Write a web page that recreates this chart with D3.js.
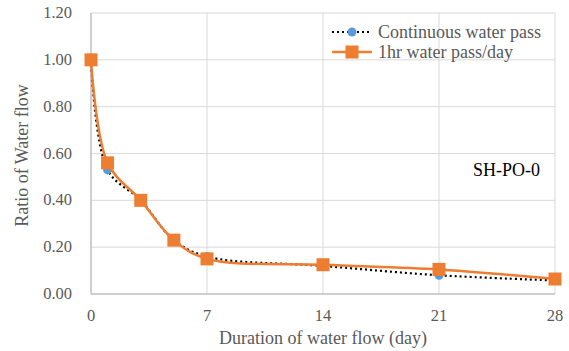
<!DOCTYPE html>
<html>
<head>
<meta charset="utf-8">
<script src="https://cdn.jsdelivr.net/npm/d3@7"></script>
<style>
  body { margin: 0; background: #fff; }
</style>
</head>
<body>
<svg id="chart" width="569" height="351"></svg>
<script>
// data
days = [0, 1, 3, 5, 7, 14, 21, 28];
continuous = [1.00, 0.53, 0.40, 0.23, 0.16, 0.12, 0.08, 0.058];
oneHour = [1.00, 0.56, 0.40, 0.23, 0.15, 0.125, 0.105, 0.064];
xTicks = [0, 7, 14, 21, 28];
yTicks = [0, 0.2, 0.4, 0.6, 0.8, 1.0, 1.2];

width = 569;
height = 351;
margin = {left: 91, right: 14, top: 13, bottom: 57};

font = "Liberation Serif";
blue = "#5b9bd5";
orange = "#ed7d31";
grid_color = "#d9d9d9";
label_color = "#595959";

const svg = d3.select("#chart");

const x = d3.scaleLinear().domain([0, 28]).range([margin.left, width - margin.right]);
const y = d3.scaleLinear().domain([0, 1.2]).range([height - margin.bottom, margin.top]);

// gridlines
svg.append("g")
  .selectAll("line")
  .data(yTicks.slice(1))
  .join("line")
    .attr("x1", x(0)).attr("x2", x(28))
    .attr("y1", d => y(d)).attr("y2", d => y(d))
    .attr("stroke", grid_color);

svg.append("g")
  .selectAll("line")
  .data(xTicks.slice(1))
  .join("line")
    .attr("x1", d => x(d)).attr("x2", d => x(d))
    .attr("y1", y(0)).attr("y2", y(1.2))
    .attr("stroke", grid_color);

// axes lines
svg.append("line")
  .attr("x1", x(0)).attr("x2", x(0)).attr("y1", y(0)).attr("y2", y(1.2))
  .attr("stroke", "#bfbfbf").attr("stroke-width", 1.5);
svg.append("line")
  .attr("x1", x(0)).attr("x2", x(28)).attr("y1", y(0)).attr("y2", y(0))
  .attr("stroke", "#bfbfbf").attr("stroke-width", 1.5);

// tick labels
svg.append("g")
  .selectAll("text")
  .data(yTicks)
  .join("text")
    .attr("x", 72)
    .attr("y", d => y(d) + 5)
    .attr("text-anchor", "end")
    .attr("font-family", font)
    .attr("font-size", 16.5)
    .attr("fill", label_color)
    .text(d => d3.format(".2f")(d));

svg.append("g")
  .selectAll("text")
  .data(xTicks)
  .join("text")
    .attr("x", d => x(d))
    .attr("y", 321)
    .attr("text-anchor", "middle")
    .attr("font-family", font)
    .attr("font-size", 16.5)
    .attr("fill", label_color)
    .text(d => d);

// axis titles
svg.append("text")
  .attr("x", (x(0) + x(28)) / 2)
  .attr("y", 344)
  .attr("text-anchor", "middle")
  .attr("font-family", font)
  .attr("font-size", 18)
  .attr("fill", label_color)
  .text("Duration of water flow (day)");

svg.append("text")
  .attr("transform", "translate(28," + (y(0.6) + 2) + ") rotate(-90)")
  .attr("text-anchor", "middle")
  .attr("font-family", font)
  .attr("font-size", 18)
  .attr("fill", label_color)
  .text("Ratio of Water flow");

// lines
var line = d3.line()
  .curve(d3.curveCatmullRom.alpha(0.5))
  .x(d => x(d[0]))
  .y(d => y(d[1]));

svg.append("path")
  .attr("d", line(days.map((d, i) => [d, continuous[i]])))
  .attr("fill", "none")
  .attr("stroke", "#000")
  .attr("stroke-width", 2.2)
  .attr("stroke-dasharray", "2,3");

svg.append("g")
  .selectAll("circle")
  .data(days.map((d, i) => [d, continuous[i]]))
  .join("circle")
    .attr("cx", d => x(d[0]))
    .attr("cy", d => y(d[1]))
    .attr("r", 4.5)
    .attr("fill", blue);

svg.append("path")
  .attr("d", line(days.map((d, i) => [d, oneHour[i]])))
  .attr("fill", "none")
  .attr("stroke", orange)
  .attr("stroke-width", 2.5);

svg.append("g")
  .selectAll("rect")
  .data(days.map((d, i) => [d, oneHour[i]]))
  .join("rect")
    .attr("x", d => x(d[0]) - 6.5)
    .attr("y", d => y(d[1]) - 6.5)
    .attr("width", 13)
    .attr("height", 13)
    .attr("fill", orange);

// legend
legend = [
  {label: "Continuous water pass", kind: "dot"},
  {label: "1hr water pass/day", kind: "square"}
];
const lg = svg.append("g")
  .selectAll("g")
  .data(legend)
  .join("g")
    .attr("transform", (d, i) => "translate(332," + (32 + i * 20) + ")");

lg.append("line")
  .attr("x1", 0).attr("x2", 40)
  .attr("stroke", d => d.kind == "dot" ? "#000" : orange)
  .attr("stroke-width", d => d.kind == "dot" ? 2.2 : 2.5)
  .attr("stroke-dasharray", d => d.kind == "dot" ? "2,3" : null);

lg.filter(d => d.kind == "dot").append("circle")
  .attr("cx", 20).attr("r", 4.5).attr("fill", blue);
lg.filter(d => d.kind == "square").append("rect")
  .attr("x", 13.5).attr("y", -6.5).attr("width", 13).attr("height", 13).attr("fill", orange);

lg.append("text")
  .attr("x", 46)
  .attr("y", 6)
  .attr("font-family", font)
  .attr("font-size", 18)
  .attr("fill", label_color)
  .text(d => d.label);

svg.append("text")
  .attr("x", 473)
  .attr("y", 176)
  .attr("font-family", font)
  .attr("font-size", 18)
  .attr("fill", "#000")
  .text("SH-PO-0");
</script>
</body>
</html>
